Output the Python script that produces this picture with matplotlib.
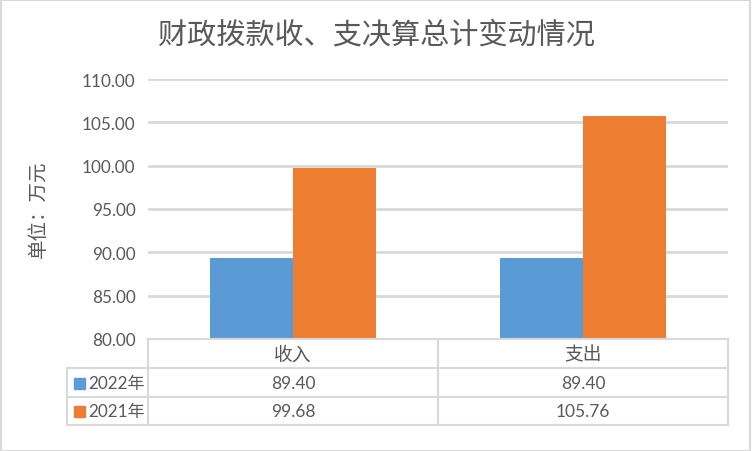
import matplotlib.pyplot as plt
from matplotlib.patches import Rectangle

plt.rcParams['font.family'] = ['Lato', 'Noto Sans CJK SC', 'DejaVu Sans']

categories = ['收入', '支出']
series_names = ['2022年', '2021年']
values_2022 = [89.40, 89.40]
values_2021 = [99.68, 105.76]
colors = ['#5b9bd5', '#ed7d31']
yticks = [80, 85, 90, 95, 100, 105, 110]

W, H = 752, 452
text_color = '#595959'
grid_color = '#d9d9d9'


def fx(px):
    return px / W


def fy(py):
    return 1 - py / H


fig = plt.figure(figsize=(W / 100, H / 100), dpi=100)
ax = fig.add_axes([fx(148), fy(340), fx(728) - fx(148), fy(80) - fy(340)])

w = 0.287
xs = list(range(len(categories)))
ax.bar([x - w / 2 for x in xs], values_2022, w, color=colors[0], zorder=3)
ax.bar([x + w / 2 for x in xs], values_2021, w, color=colors[1], zorder=3)

ax.set_xlim(-0.5, len(categories) - 0.5)
ax.set_ylim(80, 110)
ax.set_yticks(yticks)
ax.set_yticklabels([f'{t:.2f}' for t in yticks], fontsize=12.3, color=text_color)
ax.tick_params(axis='y', length=0, pad=9)
ax.set_xticks([])
ax.grid(axis='y', color=grid_color, linewidth=2, zorder=0)
for s in ax.spines.values():
    s.set_visible(False)

# data table under the plot
def hline(y, x0, x1):
    fig.add_artist(plt.Line2D([fx(x0), fx(x1)], [fy(y), fy(y)], color=grid_color, lw=1.5))


def vline(x, y0, y1):
    fig.add_artist(plt.Line2D([fx(x), fx(x)], [fy(y0), fy(y1)], color=grid_color, lw=1.5))


hline(340, 148, 728)
for y in (369, 398, 426):
    hline(y, 67, 728)
for x in (148, 438, 728):
    vline(x, 340, 426)
vline(67, 369, 426)

col_centers = [293, 583]
for cx, cat in zip(col_centers, categories):
    fig.text(fx(cx), fy(355), cat, ha='center', va='center', fontsize=13.5, color=text_color)

row_y = [384, 412]
for ry, name, vals, c in zip(row_y, series_names, [values_2022, values_2021], colors):
    fig.add_artist(Rectangle((fx(74), fy(ry + 5.5)), fx(11), 11 / H, color=c,
                             transform=fig.transFigure))
    fig.text(fx(88), fy(ry), name, ha='left', va='center', fontsize=12.3, color=text_color)
    for cx, v in zip(col_centers, vals):
        fig.text(fx(cx), fy(ry), f'{v:.2f}', ha='center', va='center', fontsize=12.5, color=text_color)

fig.text(fx(376), fy(35), '财政拨款收、支决算总计变动情况', ha='center', va='center',
         fontsize=21, color=text_color)
fig.text(fx(38), fy(209), '单位：万元', ha='center', va='center', rotation=90,
         fontsize=14, color=text_color)

# chart border
fig.add_artist(Rectangle((0.001, 0.001), 0.997, 0.996, fill=False, edgecolor=grid_color,
                         lw=1.5, transform=fig.transFigure))

plt.savefig('out.png', dpi=100)
